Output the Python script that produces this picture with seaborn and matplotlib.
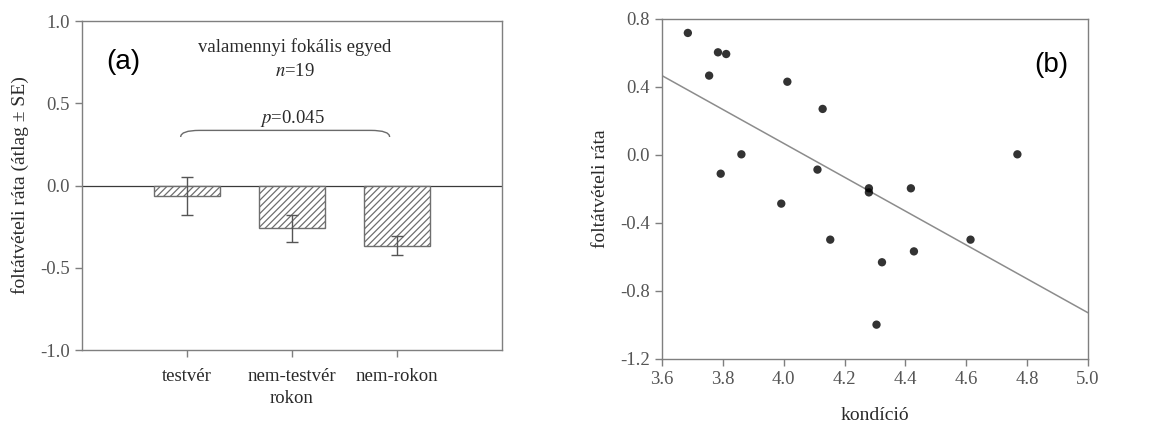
import numpy as np
import pandas as pd
import seaborn as sns
import matplotlib.pyplot as plt
from matplotlib.path import Path
from matplotlib.patches import PathPatch

# ====================== DATA ======================
# (a) bar panel: mean +- SE per relatedness group
groups = ["testvér", "nem-testvér\nrokon", "nem-rokon"]
group_mean = [-0.065, -0.26, -0.365]
group_se = [0.115, 0.082, 0.06]

# (b) scatter panel: condition vs. patch-uptake rate
kondicio = [3.685, 3.755, 3.784, 3.811, 3.793, 3.861, 3.992, 4.012, 4.111, 4.128,
            4.153, 4.280, 4.280, 4.305, 4.323, 4.418, 4.428, 4.614, 4.768]
rata = [0.718, 0.467, 0.604, 0.594, -0.110, 0.004, -0.286, 0.431, -0.086, 0.271,
        -0.498, -0.196, -0.220, -0.998, -0.631, -0.196, -0.567, -0.498, 0.004]

bar_df = pd.DataFrame({"group": groups, "mean": group_mean, "se": group_se})
pt_df = pd.DataFrame({"kondicio": kondicio, "rata": rata})

# ====================== STYLE ======================
sns.set_theme(style="white")
plt.rcParams["font.family"] = ["Liberation Serif", "DejaVu Serif"]
plt.rcParams["mathtext.fontset"] = "stix"
plt.rcParams["axes.edgecolor"] = "#7f7f7f"
plt.rcParams["hatch.color"] = "#8a8a8a"
plt.rcParams["hatch.linewidth"] = 0.9

TICK_C = "#555555"
LAB_C = "#2a2a2a"
FS = 13.5

fig = plt.figure(figsize=(11.63, 4.26), dpi=100)
ax1 = fig.add_axes([0.0705, 0.1784, 0.3611, 0.7723])
ax2 = fig.add_axes([0.5692, 0.1573, 0.3663, 0.7981])

# ====================== (a) BARS ======================
sns.barplot(data=bar_df, x="group", y="mean", ax=ax1, color="white",
            edgecolor="#6e6e6e", linewidth=1.0, width=0.62, errorbar=None)
for p in ax1.patches:
    p.set_hatch("/////")
pos = np.arange(len(groups))
ax1.errorbar(pos, bar_df["mean"], yerr=bar_df["se"], fmt="none",
             ecolor="#555555", elinewidth=1.0, capsize=4, capthick=1.0)
ax1.axhline(0, color="#3a3a3a", lw=0.9, zorder=0.5)

ax1.set_xlim(-1, 3)
ax1.set_ylim(-1.0, 1.0)
ax1.set_yticks([-1.0, -0.5, 0.0, 0.5, 1.0])
ax1.set_yticklabels([f"{v:.1f}" for v in [-1.0, -0.5, 0.0, 0.5, 1.0]])
ax1.set_xlabel("")
ax1.set_ylabel("foltátvételi ráta (átlag ± SE)", fontsize=14, color=LAB_C, labelpad=8)
ax1.tick_params(axis="both", direction="out", length=5, width=1, color="#7f7f7f",
                labelsize=FS, labelcolor=TICK_C, bottom=True, left=True)
ax1.tick_params(axis="x", labelcolor=LAB_C, pad=8)
for lbl in ax1.get_xticklabels():
    lbl.set_linespacing(1.4)

ax1.text(1.03, 0.84, "valamennyi fokális egyed", ha="center", va="center",
         fontsize=FS, color=LAB_C)
ax1.text(1.03, 0.69, r"$\mathit{n}$=19", ha="center", va="center", fontsize=FS, color=LAB_C)
ax1.text(1.0, 0.405, r"$\mathit{p}$=0.045", ha="center", va="center", fontsize=FS, color=LAB_C)
ax1.text(-0.77, 0.75, "(a)", ha="left", va="center", fontsize=20,
         family=["Liberation Sans", "DejaVu Sans"], color="black")

# curly bracket spanning testvér .. nem-rokon
x0, x1 = pos[0] - 0.06, pos[-1] - 0.07
yb, yt = 0.295, 0.335
verts = [(x0, yb), (x0, yt), (x0 + 0.18, yt), (x0 + 0.18, yt), (x1 - 0.18, yt),
         (x1 - 0.18, yt), (x1, yt), (x1, yb)]
codes = [Path.MOVETO, Path.CURVE3, Path.CURVE3, Path.MOVETO, Path.LINETO,
         Path.MOVETO, Path.CURVE3, Path.CURVE3]
ax1.add_patch(PathPatch(Path(verts, codes), fill=False, edgecolor="#6a6a6a", lw=1.0))

for s in ax1.spines.values():
    s.set_visible(True)
    s.set_linewidth(1.0)

# ====================== (b) SCATTER + FIT ======================
ax2.set_xlim(3.6, 5.0)
ax2.set_ylim(-1.2, 0.8)
sns.regplot(data=pt_df, x="kondicio", y="rata", ax=ax2, ci=None, truncate=False,
            scatter_kws=dict(color="black", s=36, edgecolor="none", zorder=3),
            line_kws=dict(color="#8c8c8c", lw=1.1))
ax2.set_xlim(3.6, 5.0)
ax2.set_ylim(-1.2, 0.8)
xt = np.round(np.arange(3.6, 5.01, 0.2), 1)
yt_ = np.round(np.arange(-1.2, 0.81, 0.4), 1)
ax2.set_xticks(xt)
ax2.set_xticklabels([f"{v:.1f}" for v in xt])
ax2.set_yticks(yt_)
ax2.set_yticklabels([f"{v:.1f}" for v in yt_])
ax2.set_xlabel("kondíció", fontsize=14, color=LAB_C, labelpad=14)
ax2.set_ylabel("foltátvételi ráta", fontsize=14, color=LAB_C, labelpad=8)
ax2.tick_params(axis="both", direction="out", length=5, width=1, color="#7f7f7f",
                labelsize=FS, labelcolor=TICK_C, bottom=True, left=True)
ax2.text(4.88, 0.53, "(b)", ha="center", va="center", fontsize=20,
         family=["Liberation Sans", "DejaVu Sans"], color="black")
for s in ax2.spines.values():
    s.set_visible(True)
    s.set_linewidth(1.0)

fig.savefig("out.png", dpi=100)
